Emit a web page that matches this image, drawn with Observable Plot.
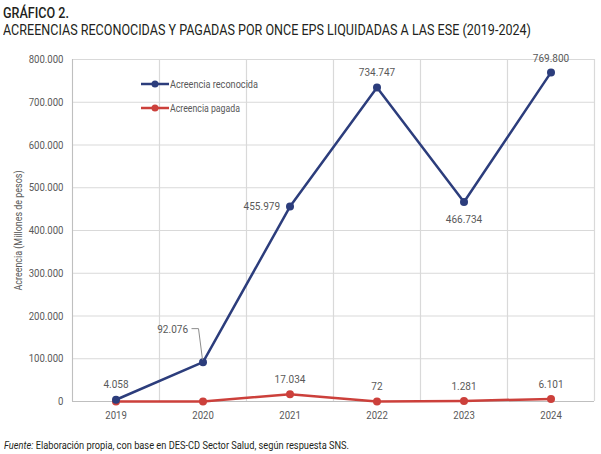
<!DOCTYPE html>
<html>
<head>
<meta charset="utf-8">
<script src="https://cdn.jsdelivr.net/npm/d3@7"></script>
<script src="https://cdn.jsdelivr.net/npm/@observablehq/plot@0.6"></script>
<style>
  body { margin: 0; background: #fff; font-family: Roboto, "Liberation Sans", sans-serif; }
  #wrap { position: relative; width: 601px; height: 454px; overflow: hidden; }
  .fit { position: absolute; white-space: nowrap; transform-origin: 0 0; display: inline-block; }
  #t1 { left: 3px; top: 4px; font-size: 15.5px; font-weight: 500; color: #231f20; }
  #t2 { left: 3px; top: 21px; font-size: 15.5px; color: #231f20; }
  #legend { position: absolute; left: 141px; top: 72px; font-size: 11px; color: #595959; }
  #legend .row { display: flex; align-items: center; height: 24px; }
  #chart { position: absolute; left: 0; top: 40px; }
  #caption { left: 4px; top: 440px; font-size: 10px; color: #231f20; }
</style>
</head>
<body>
<div id="wrap">
  <div id="chart"></div>
  <div id="t1" class="fit" data-w="66">GRÁFICO 2.</div>
  <div id="t2" class="fit" data-w="528">ACREENCIAS RECONOCIDAS Y PAGADAS POR ONCE EPS LIQUIDADAS A LAS ESE (2019-2024)</div>
  <div id="legend"></div>
  <div id="caption" class="fit" data-w="345"><i>Fuente:</i> Elaboración propia, con base en DES-CD Sector Salud, según respuesta SNS.</div>
</div>
<script>
const years = [2019, 2020, 2021, 2022, 2023, 2024];
const reconocida = [4058, 92076, 455979, 734747, 466734, 769800];
const pagada = [0, 0, 17034, 72, 1281, 6101];
const pagadaLabeled = [false, false, true, true, true, true];
const seriesNames = ["Acreencia reconocida", "Acreencia pagada"];
const seriesColors = ["#2c3d7c", "#cc403b"];
const yTicks = [0, 100000, 200000, 300000, 400000, 500000, 600000, 700000, 800000];
const yTitle = "Acreencia (Millones de pesos)";

const loc = d3.formatLocale({decimal: ",", thousands: ".", grouping: [3], currency: ["$", ""]});
const fmt = loc.format(",d");

const recData = years.map((y, i) => ({year: y, value: reconocida[i]}));
const pagData = years.map((y, i) => ({year: y, value: pagada[i], labeled: pagadaLabeled[i]}));
const boundaries = years.map(y => y - 0.5).concat([years[years.length - 1] + 0.5]);

const recLabelStyle = [
  {dx: 0, dy: -15, anchor: "middle"},
  {dx: -15, dy: -33, anchor: "end"},
  {dx: -10, dy: 0, anchor: "end"},
  {dx: 0, dy: -15, anchor: "middle"},
  {dx: 0, dy: 17, anchor: "middle"},
  {dx: 0, dy: -14, anchor: "middle"}
];

const textGray = "#595959";
const gridColor = "#d9d9d9";
const font = 'Roboto, "Liberation Sans", sans-serif';

const plot = Plot.plot({
  width: 601,
  height: 392,
  marginTop: 19,
  marginBottom: 31,
  marginLeft: 72,
  marginRight: 7,
  style: {fontFamily: font, fontSize: "11px", color: textGray, background: "white"},
  x: {domain: [years[0] - 0.5, years[years.length - 1] + 0.5], label: null},
  y: {domain: [0, 800000], label: null},
  marks: [
    Plot.gridY(yTicks, {stroke: gridColor, strokeOpacity: 1, strokeWidth: 1.2}),
    Plot.ruleX(boundaries, {stroke: gridColor, strokeWidth: 1.2}),
    Plot.ruleX([boundaries[0]], {stroke: "#bfbfbf", strokeWidth: 1}),
    Plot.ruleY([0], {stroke: "#bfbfbf", strokeWidth: 1.2}),
    Plot.axisX({ticks: years, tickFormat: "d", tickSize: 0, tickPadding: 10, fontSize: 11, fill: textGray}),
    Plot.axisY({ticks: yTicks, tickFormat: fmt, tickSize: 0, tickPadding: 9, fontSize: 11, fill: textGray}),
    Plot.line(pagData, {x: "year", y: "value", stroke: seriesColors[1], strokeWidth: 2.5}),
    Plot.dot(pagData, {x: "year", y: "value", fill: seriesColors[1], r: 4}),
    Plot.line(recData, {x: "year", y: "value", stroke: seriesColors[0], strokeWidth: 2.5}),
    Plot.dot(recData, {x: "year", y: "value", fill: seriesColors[0], r: 4}),
    Plot.dot([recData[1]], {
      x: "year", y: "value", r: 0,
      render(index, scales, values) {
        const g = d3.create("svg:g");
        for (const i of index) {
          const px = values.x[i], py = values.y[i];
          g.append("path")
            .attr("d", `M${px - 11},${py - 33}H${px - 4}L${px},${py - 2}`)
            .attr("fill", "none").attr("stroke", "#8c8c8c").attr("stroke-width", 1);
        }
        return g.node();
      }
    }),
    ...recData.map((d, i) => Plot.text([d], {
      x: "year", y: "value", text: d => fmt(d.value),
      dx: recLabelStyle[i].dx, dy: recLabelStyle[i].dy, textAnchor: recLabelStyle[i].anchor,
      fill: textGray, fontSize: 11.5
    })),
    Plot.text(pagData.filter(d => d.labeled), {
      x: "year", y: "value", text: d => fmt(d.value), dy: -15, fill: textGray, fontSize: 11.5
    }),
    Plot.text([yTitle], {
      frameAnchor: "left", textAnchor: "middle", dx: -54, rotate: -90, fill: textGray, fontSize: 10.5
    })
  ]
});
document.getElementById("chart").appendChild(plot);

// condense SVG texts to mimic the narrow typeface of the original
plot.querySelectorAll("text").forEach(t => {
  const len = t.getComputedTextLength();
  if (!len) return;
  const target = t.textContent === yTitle ? 120 : len * 0.87;
  t.setAttribute("textLength", target);
  t.setAttribute("lengthAdjust", "spacingAndGlyphs");
});

const legend = d3.select("#legend");
seriesNames.forEach((name, i) => {
  const row = legend.append("div").attr("class", "row");
  const sw = row.append("svg").attr("width", 29).attr("height", 10);
  sw.append("line").attr("x1", 0).attr("x2", 28).attr("y1", 5).attr("y2", 5).attr("stroke", seriesColors[i]).attr("stroke-width", 2.5);
  sw.append("circle").attr("cx", 14).attr("cy", 5).attr("r", 3.5).attr("fill", seriesColors[i]);
  row.append("span").attr("class", "lt").style("display", "inline-block").style("transform-origin", "0 50%").text(name);
});
const legendWidths = [88, 70];
d3.selectAll("#legend .lt").each(function(d, i) {
  const w = this.getBoundingClientRect().width;
  this.style.transform = `scaleX(${legendWidths[i] / w})`;
});

document.querySelectorAll(".fit").forEach(el => {
  const w = el.getBoundingClientRect().width;
  el.style.transform = `scaleX(${(+el.dataset.w) / w})`;
});
</script>
</body>
</html>
